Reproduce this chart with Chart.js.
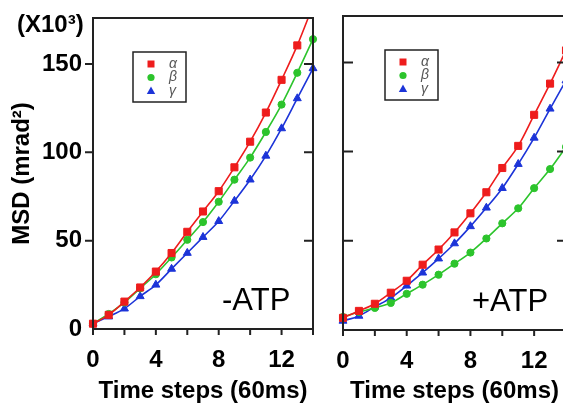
<!DOCTYPE html>
<html>
<head>
<meta charset="utf-8">
<script src="https://cdn.jsdelivr.net/npm/chart.js@4.4.1/dist/chart.umd.min.js"></script>
<style>
  html, body { margin: 0; padding: 0; background: #fff; overflow: hidden; }
  #wrap { position: relative; width: 563px; height: 405px; overflow: hidden; }
  .panel { position: absolute; top: 0; height: 405px; }
</style>
</head>
<body>
<div id="wrap">
  <div class="panel" style="left:0;width:330px"><canvas id="chartMinus"></canvas></div>
  <div class="panel" style="left:330px;width:280px"><canvas id="chartPlus"></canvas></div>
</div>
<script>
// time steps (60 ms each)
const steps = [0, 1, 2, 3, 4, 5, 6, 7, 8, 9, 10, 11, 12, 13, 14];
const xTickLabels = [0, 4, 8, 12];
const xTickMarks = [0, 2, 4, 6, 8, 10, 12, 14];
const yTickLabels = [0, 50, 100, 150];
const seriesNames = ['α', 'β', 'γ'];

// MSD (x10^3 mrad^2), -ATP
const alphaMinus = [3, 8, 15.5, 23.5, 32.5, 43, 55, 66.5, 78, 91.5, 106, 122.5, 141, 160.5, 183];
const betaMinus  = [3, 8.5, 15, 23, 31, 40.5, 50.5, 60.5, 72, 84.5, 97, 111.5, 127, 145, 164];
const gammaMinus = [3, 7, 11.5, 18.5, 25, 34, 43, 52, 61, 72.5, 84.5, 98, 113.5, 130.5, 147.5];

// MSD (x10^3 mrad^2), +ATP
const alphaPlus = [6.8, 10.7, 14.7, 20.9, 27.6, 36.6, 45.1, 54.7, 65.4, 77.2, 90.8, 103.2, 120.6, 138.1, 156.7];
const betaPlus  = [7.3, 10.1, 12.4, 15.2, 20.3, 25.4, 31, 37.2, 43.4, 51.3, 59.8, 68.2, 79.5, 90.2, 102.6];
const gammaPlus = [5.1, 7.9, 13, 18, 24.8, 32.1, 40, 48.5, 58.1, 68.5, 79.5, 93, 107.7, 124, 139.8];

const FONT = "'Liberation Sans', Arial, sans-serif";
const RED = '#ee1c1c';
const GREEN = '#2cc42c';
const BLUE = '#1c34d8';

const toPoints = (arr) => steps.map((s, i) => ({ x: s, y: arr[i] }));

const makeDatasets = (a, b, g) => [
    { label: seriesNames[0], data: toPoints(a), borderColor: RED, backgroundColor: RED, pointStyle: 'rect', pointRadius: 5 },
    { label: seriesNames[1], data: toPoints(b), borderColor: GREEN, backgroundColor: GREEN, pointStyle: 'circle', pointRadius: 3.6 },
    { label: seriesNames[2], data: toPoints(g), borderColor: BLUE, backgroundColor: BLUE, pointStyle: 'triangle', pointRadius: 4.6 },
].map(ds => Object.assign(ds, {
    borderWidth: 1.6,
    pointBorderWidth: 1,
    cubicInterpolationMode: 'monotone',
    clip: { left: 8, right: 8, top: 0, bottom: 8 },
}));

const drawMarker = (ctx, style, x, y, color) => {
    ctx.fillStyle = color;
    ctx.beginPath();
    if (style === 'rect') {
        ctx.rect(x - 3.5, y - 3.5, 7, 7);
    } else if (style === 'circle') {
        ctx.arc(x, y, 3.6, 0, Math.PI * 2);
    } else {
        ctx.moveTo(x, y - 4.5);
        ctx.lineTo(x + 4.2, y + 3);
        ctx.lineTo(x - 4.2, y + 3);
        ctx.closePath();
    }
    ctx.fill();
};

// frame, inner/outer tick marks, legend box and panel text
const framePlugin = {
    id: 'frame',
    afterDatasetsDraw(chart, args, opts) {
        const { ctx, chartArea: a, scales: { x, y } } = chart;
        ctx.save();
        ctx.strokeStyle = '#222';
        ctx.lineWidth = 2;
        ctx.strokeRect(a.left, a.top, a.right - a.left, a.bottom - a.top);

        ctx.beginPath();
        for (let v of xTickMarks) {
            const px = x.getPixelForValue(v);
            ctx.moveTo(px, a.bottom);
            ctx.lineTo(px, a.bottom + 6);
        }
        for (let v of yTickLabels) {
            if (v === 0) continue;
            const py = y.getPixelForValue(v);
            ctx.moveTo(a.left + opts.leftTick, py);
            ctx.lineTo(a.left, py);
            ctx.moveTo(a.right - 9, py);
            ctx.lineTo(a.right, py);
        }
        ctx.stroke();

        // legend
        const lx = a.left + opts.legendX;
        const ly = a.top + 34;
        ctx.lineWidth = 1.5;
        ctx.strokeRect(lx, ly, 53, 50);
        ctx.font = `italic 14px ${FONT}`;
        ctx.textBaseline = 'middle';
        ctx.textAlign = 'left';
        chart.data.datasets.forEach((ds, i) => {
            const rowY = ly + 12 + i * 13.5;
            drawMarker(ctx, ds.pointStyle, lx + 18, rowY, ds.borderColor);
            ctx.fillStyle = '#555';
            ctx.fillText(ds.label, lx + 36, rowY);
        });

        // condition label
        ctx.fillStyle = '#000';
        ctx.font = `31px ${FONT}`;
        ctx.textBaseline = 'alphabetic';
        ctx.fillText(opts.label, a.left + 129, a.bottom - 19);

        if (opts.unit) {
            ctx.font = `bold 24px ${FONT}`;
            ctx.fillText(opts.unit, 17, 32);
        }
        ctx.restore();
    }
};

const makeOptions = (cfg) => ({
    responsive: true,
    maintainAspectRatio: false,
    animation: false,
    layout: { padding: { top: cfg.top, right: cfg.right, left: 0, bottom: 0 } },
    scales: {
        x: {
            type: 'linear', min: 0, max: 14,
            afterBuildTicks: s => { s.ticks = xTickLabels.map(v => ({ value: v })); },
            afterFit: s => { s.height = cfg.xHeight; },
            // grid hidden; tickLength only spaces the labels away from the frame
            grid: { display: false, drawTicks: true, tickLength: 17 },
            border: { display: false },
            ticks: { color: '#000', padding: 0, maxRotation: 0, font: { family: FONT, size: 24, weight: 'bold' } },
            title: {
                display: true, text: 'Time steps (60ms)', color: '#000',
                font: { family: FONT, size: 24, weight: 'bold', lineHeight: 1 },
                padding: { top: 0, bottom: 2 }
            }
        },
        y: {
            min: 0, max: 176,
            afterBuildTicks: s => { s.ticks = yTickLabels.map(v => ({ value: v })); },
            afterFit: s => { s.width = cfg.yWidth; },
            grid: { display: false, drawTicks: true, tickLength: 11 },
            border: { display: false },
            ticks: { display: cfg.showY, color: '#000', padding: 0, font: { family: FONT, size: 24, weight: 'bold' } },
            title: {
                display: cfg.showY, text: 'MSD (mrad²)', color: '#000',
                font: { family: FONT, size: 24, weight: 'bold', lineHeight: 1 },
                padding: { top: 10, bottom: 0 }
            }
        }
    },
    plugins: {
        legend: { display: false },
        tooltip: { enabled: false },
        frame: cfg.frame
    }
});

const chartMinus = new Chart(document.getElementById('chartMinus'), {
    type: 'line',
    data: { datasets: makeDatasets(alphaMinus, betaMinus, gammaMinus) },
    options: makeOptions({
        top: 18, right: 17, xHeight: 76, yWidth: 93, showY: true,
        frame: { leftTick: -8, legendX: 40, label: '-ATP', unit: '(X10³)' }
    }),
    plugins: [framePlugin]
});

const chartPlus = new Chart(document.getElementById('chartPlus'), {
    type: 'line',
    data: { datasets: makeDatasets(alphaPlus, betaPlus, gammaPlus) },
    options: makeOptions({
        top: 16, right: 44, xHeight: 75, yWidth: 13, showY: false,
        frame: { leftTick: 10, legendX: 42, label: '+ATP', unit: '' }
    }),
    plugins: [framePlugin]
});
</script>
</body>
</html>
